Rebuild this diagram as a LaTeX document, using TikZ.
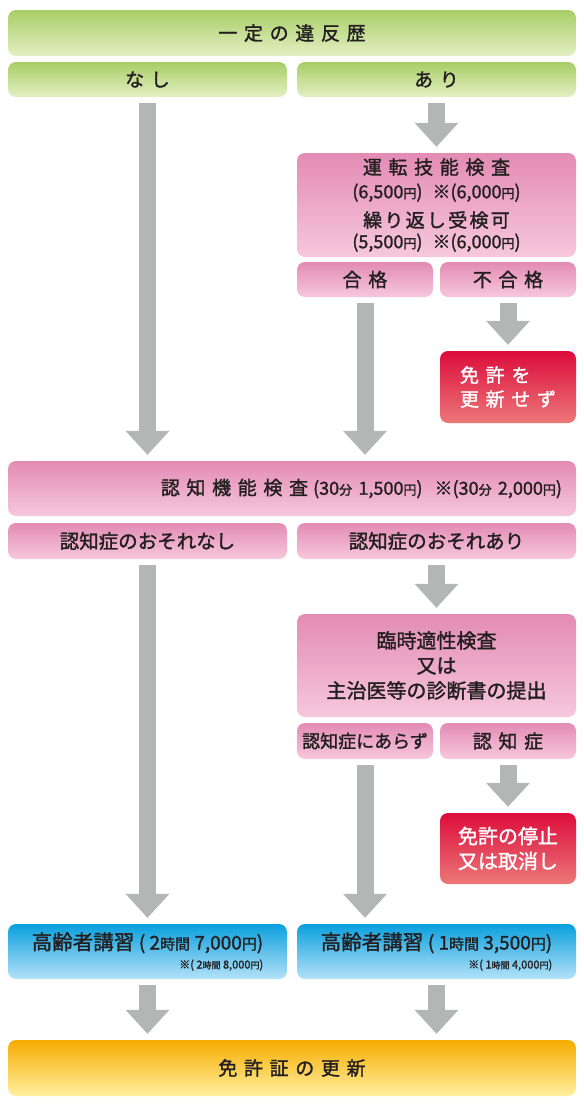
\documentclass[tikz,border=0pt]{standalone}
\usepackage{fontspec}
\setmainfont{Noto Sans CJK JP}[FakeBold=1.5]
\newfontfamily\widejp{Noto Sans CJK JP}[LetterSpace=35,FakeBold=1.5]
\newfontfamily\midjp{Noto Sans CJK JP}[LetterSpace=12,FakeBold=1.5]
\usepackage{xcolor}
\definecolor{LicText}{HTML}{231F20}
\definecolor{LicArrow}{HTML}{B4B5B5}
\definecolor{LicGreenTop}{HTML}{A8CD66}
\definecolor{LicGreenBot}{HTML}{E4F0C4}
\definecolor{LicPinkTop}{HTML}{E38BB4}
\definecolor{LicPinkBot}{HTML}{F6C8DC}
\definecolor{LicRedTop}{HTML}{DC0C3C}
\definecolor{LicRedBot}{HTML}{EC7878}
\definecolor{LicBlueTop}{HTML}{0AA0DE}
\definecolor{LicBlueBot}{HTML}{B4E1F8}
\definecolor{LicYellowTop}{HTML}{F6AC00}
\definecolor{LicYellowMid}{HTML}{FFD200}
\definecolor{LicYellowBot}{HTML}{FFF0A0}
\usepackage{tikz}
\usetikzlibrary{arrows.meta,positioning}
\newcommand{\fsz}[2]{{\fontsize{#1}{#1}\selectfont #2}}

\begin{document}
\begin{tikzpicture}[x=1pt,y=-1pt,
  flowbox/.style={rectangle,rounded corners=8pt,inner sep=0pt,align=center,text=LicText},
  greenbox/.style={flowbox,top color=LicGreenTop,bottom color=LicGreenBot},
  pinkbox/.style={flowbox,top color=LicPinkTop,bottom color=LicPinkBot},
  redbox/.style={flowbox,top color=LicRedTop,bottom color=LicRedBot,text=white},
  bluebox/.style={flowbox,top color=LicBlueTop,bottom color=LicBlueBot},
  yellowbox/.style={flowbox,top color=LicYellowTop,middle color=LicYellowMid,bottom color=LicYellowBot},
  fullw/.style={minimum width=568pt},
  halfw/.style={minimum width=279pt},
  quarterw/.style={minimum width=136pt},
  widefont/.style={font=\widejp\fontsize{19}{24}\selectfont},
  plainfont/.style={font=\fontsize{20}{25}\selectfont},
  flowarrow/.style={draw=LicArrow,line width=17pt,
    -{Triangle[width=44pt,length=24pt,line width=0pt]},shorten <=6pt,shorten >=6pt}
]
  \useasboundingbox (0,0) rectangle (584,1104);
  % violation history
  \node[greenbox,fullw,minimum height=46pt,widefont] (ihan) at (292,33) {一定の違反歴};
  \node[greenbox,halfw,minimum height=35pt,widefont] (nasi) at (147.5,79.5) {なし};
  \node[greenbox,halfw,minimum height=35pt,widefont] (ari) at (436.5,79.5) {あり};
  % driving skill test
  \node[pinkbox,halfw,minimum height=104pt,font=\fontsize{19}{22}\selectfont] (unten) at (436.5,205)
    {{\widejp 運転技能検査}\\[2pt]
     \fsz{18}{(6,500\fsz{13}{円})\hspace{10pt}※(6,000\fsz{13}{円})}\\[7pt]
     {\midjp 繰り返し受検可}\\[-1pt]
     \fsz{18}{(5,500\fsz{13}{円})\hspace{10pt}※(6,000\fsz{13}{円})}};
  \node[pinkbox,quarterw,minimum height=35pt,widefont] (goukaku) at (365,279.5) {合格};
  \node[pinkbox,quarterw,minimum height=35pt,widefont] (fugoukaku) at (508,279.5) {不合格};
  \node[redbox,quarterw,minimum height=72pt,widefont,align=left] (fukousin) at (508,387) {免許を\\更新せず};
  % cognitive test
  \node[pinkbox,fullw,minimum height=55pt,inner xsep=14pt,text width=540pt,align=right,
    font=\fontsize{19}{24}\selectfont] (ninchi) at (292,488.5)
    {{\widejp 認知機能検査}\hspace{5pt}\fsz{18}{(30\fsz{13}{分} 1,500\fsz{13}{円})\hspace{12pt}※(30\fsz{13}{分} 2,000\fsz{13}{円})}};
  \node[pinkbox,halfw,minimum height=36pt,font=\fontsize{19.5}{24}\selectfont] (osorenasi) at (147.5,541) {認知症のおそれなし};
  \node[pinkbox,halfw,minimum height=36pt,font=\fontsize{19.5}{24}\selectfont] (osoreari) at (436.5,541) {認知症のおそれあり};
  \node[pinkbox,halfw,minimum height=103pt,plainfont] (rinji) at (436.5,665.5)
    {臨時適性検査\\又は\\主治医等の診断書の提出};
  \node[pinkbox,quarterw,minimum height=36pt,font=\fontsize{18}{22}\selectfont] (arazu) at (365,741) {認知症にあらず};
  \node[pinkbox,quarterw,minimum height=36pt,widefont] (ninchisho) at (508,741) {認知症};
  \node[redbox,quarterw,minimum height=71pt,plainfont] (teisi) at (508,848.5) {免許の停止\\又は取消し};
  % lectures
  \node[bluebox,halfw,minimum height=55pt,align=right,font=\fontsize{20.5}{24}\selectfont] (koushuL) at (147.5,951.5)
    {高齢者講習 \fsz{19}{( 2\fsz{15}{時間} 7,000\fsz{15}{円})}\\[-5pt]
     \fsz{11}{※( 2\fsz{9}{時間} 8,000\fsz{9}{円})}};
  \node[bluebox,halfw,minimum height=55pt,align=right,font=\fontsize{20.5}{24}\selectfont] (koushuR) at (436.5,951.5)
    {高齢者講習 \fsz{19}{( 1\fsz{15}{時間} 3,500\fsz{15}{円})}\\[-5pt]
     \fsz{11}{※( 1\fsz{9}{時間} 4,000\fsz{9}{円})}};
  \node[yellowbox,fullw,minimum height=56pt,widefont] (koushin) at (292,1068) {免許証の更新};
  % arrows
  \draw[flowarrow] (nasi) -- (nasi |- ninchi.north);
  \draw[flowarrow] (ari) -- (unten);
  \draw[flowarrow] (goukaku) -- (goukaku |- ninchi.north);
  \draw[flowarrow] (fugoukaku) -- (fukousin);
  \draw[flowarrow] (osorenasi) -- (osorenasi |- koushuL.north);
  \draw[flowarrow] (osoreari) -- (rinji);
  \draw[flowarrow] (arazu) -- (arazu |- koushuR.north);
  \draw[flowarrow] (ninchisho) -- (teisi);
  \draw[flowarrow] (koushuL) -- (koushuL |- koushin.north);
  \draw[flowarrow] (koushuR) -- (koushuR |- koushin.north);
\end{tikzpicture}
\end{document}
